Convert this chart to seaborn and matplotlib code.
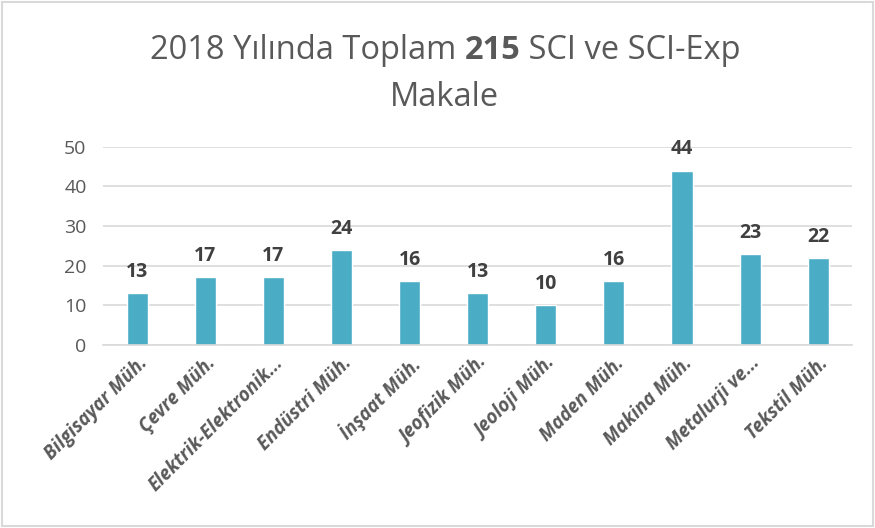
import matplotlib
matplotlib.use("Agg")
import matplotlib.pyplot as plt
import seaborn as sns
import pandas as pd

# Data
bolumler = ["Bilgisayar Müh.", "Çevre Müh.", "Elektrik-Elektronik...", "Endüstri Müh.",
            "İnşaat Müh.", "Jeofizik Müh.", "Jeoloji Müh.", "Maden Müh.",
            "Makina Müh.", "Metalurji ve...", "Tekstil Müh."]
makale = [13, 17, 17, 24, 16, 13, 10, 16, 44, 23, 22]
y_ticks = [0, 10, 20, 30, 40, 50]

df = pd.DataFrame({"bolum": bolumler, "makale": makale})

sns.set_style("white")
plt.rcParams['font.family'] = ['Open Sans', 'DejaVu Sans']

fig = plt.figure(figsize=(8.75, 5.28), dpi=100)
ax = fig.add_axes([0.118, 0.347, 0.856, 0.375])

sns.barplot(data=df, x="bolum", y="makale", color="#4BACC6", width=0.31,
            saturation=1, ax=ax)

ax.set_ylim(0, 50)
ax.set_yticks(y_ticks)
ax.yaxis.grid(True, color="#d9d9d9", linewidth=1.2)
ax.set_axisbelow(True)
ax.set_xlabel("")
ax.set_ylabel("")
for s in ["top", "right", "left"]:
    ax.spines[s].set_visible(False)
ax.spines["bottom"].set_color("#d9d9d9")
ax.spines["bottom"].set_linewidth(1.2)
ax.tick_params(axis="y", length=0, labelsize=14, labelcolor="#595959", pad=12)
ax.tick_params(axis="x", length=0, labelsize=13.5, labelcolor="#595959", pad=6)
for lbl in ax.get_xticklabels():
    lbl.set_rotation(45)
    lbl.set_ha("right")
    lbl.set_rotation_mode("anchor")
    lbl.set_fontweight("bold")
    lbl.set_fontstyle("italic")

ax.bar_label(ax.containers[0], padding=8, fontsize=14, fontweight="bold", color="#404040")

# Title with bold number
renderer = fig.canvas.get_renderer()
parts = [("2018 Yılında Toplam ", "normal"), ("215", "bold"), (" SCI ve SCI-Exp", "normal")]
texts = []
for s, w in parts:
    t = fig.text(0, 0.905, s, fontsize=23.5, fontweight=w, color="#595959", va="center", ha="left")
    texts.append(t)
widths = [t.get_window_extent(renderer).width for t in texts]
total = sum(widths)
x = (875 - total) / 2 + 8
for t, w in zip(texts, widths):
    t.set_x(x / 875)
    x += w
fig.text(0.508, 0.815, "Makale", fontsize=23.5, color="#595959", ha="center", va="center")

# Light frame around the chart
fig.patches.append(plt.Rectangle((0.002, 0.003), 0.996, 0.994, transform=fig.transFigure,
                                 fill=False, edgecolor="#d9d9d9", linewidth=1.5))

fig.savefig("out.png", dpi=100)
